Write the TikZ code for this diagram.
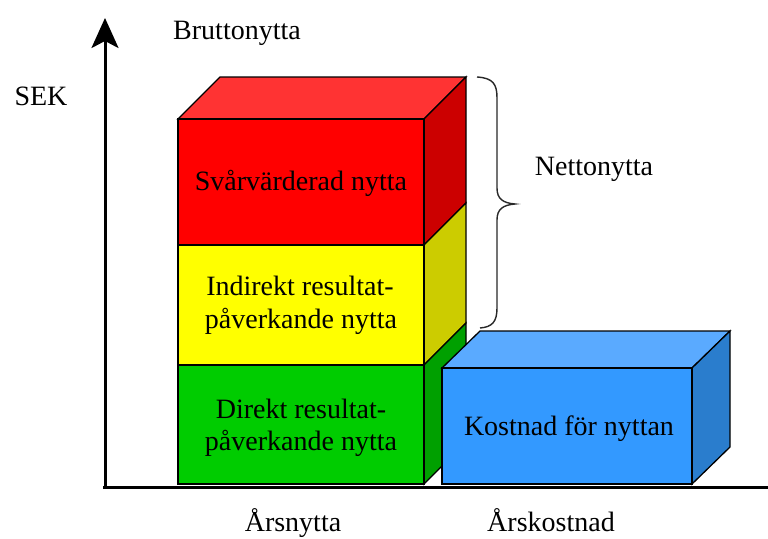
\documentclass[tikz,border=0pt]{standalone}
\usepackage{fontspec}
\setmainfont{Liberation Serif}
\usetikzlibrary{arrows.meta}
\definecolor{redfront}{RGB}{255,0,0}
\definecolor{redtop}{RGB}{255,51,51}
\definecolor{redside}{RGB}{204,0,0}
\definecolor{yelfront}{RGB}{255,255,0}
\definecolor{yelside}{RGB}{204,204,0}
\definecolor{grnfront}{RGB}{0,204,0}
\definecolor{grnside}{RGB}{0,160,0}
\definecolor{bluefront}{RGB}{51,153,255}
\definecolor{bluetop}{RGB}{90,170,255}
\definecolor{blueside}{RGB}{42,125,205}
\definecolor{bracegray}{RGB}{40,40,40}
\begin{document}
\begin{tikzpicture}[x=1pt,y=-1pt,
  face/.style={draw=black,line width=1.3pt,line join=miter},
  axis/.style={line width=3pt},
  lbl/.style={font=\fontsize{28}{33}\selectfont,anchor=base,inner sep=0pt},
  boxtext/.style={lbl,align=center}]
\useasboundingbox (0,0) rectangle (768,538);
\fill[white] (0,0) rectangle (768,538);

% vertical axis
\coordinate (origin) at (105,487);
\coordinate (ytop) at (105,18);
\draw[axis,-{Stealth[length=30pt,width=27pt,inset=7pt]}] (origin) -- (ytop);

% stacked benefit column
\filldraw[face,fill=redtop]   (178,119) -- (424,119) -- (466,77) -- (220,77) -- cycle;
\filldraw[face,fill=redside]  (424,119) -- (466,77) -- (466,203) -- (424,245) -- cycle;
\filldraw[face,fill=yelside]  (424,245) -- (466,203) -- (466,323) -- (424,365) -- cycle;
\filldraw[face,fill=grnside]  (424,365) -- (466,323) -- (466,442) -- (424,484) -- cycle;
\filldraw[face,fill=redfront] (178,119) rectangle (424,245);
\filldraw[face,fill=yelfront] (178,245) rectangle (424,365);
\filldraw[face,fill=grnfront] (178,365) rectangle (424,484);

% cost box
\filldraw[face,fill=bluetop]   (442,368) -- (692,368) -- (730,331) -- (480,331) -- cycle;
\filldraw[face,fill=blueside]  (692,368) -- (730,331) -- (730,447) -- (692,484) -- cycle;
\filldraw[face,fill=bluefront] (442,368) rectangle (692,484);

% horizontal axis
\coordinate (xstart) at (103,487);
\coordinate (xend) at (768,487);
\draw[axis] (xstart) -- (xend);

% brace spanning the net benefit
\draw[bracegray,line width=1.4pt]
  (477,77) .. controls (493,78) and (497,84) .. (497,98)
  -- (497,188) .. controls (497,199) and (503,203) .. (515,204)
  .. controls (503,205) and (497,209) .. (497,220)
  -- (497,308) .. controls (497,322) and (492,327) .. (480,328);

% labels
\node[lbl] (brutto) at (237,39) {Bruttonytta};
\node[lbl] (sek) at (41,105) {SEK};
\node[lbl] (netto) at (594,175) {Nettonytta};
\node[boxtext] (svar) at (301,190) {Svårvärderad nytta};
\node[lbl] (ind1) at (300,295) {Indirekt resultat-};
\node[lbl] (ind2) at (301,328) {påverkande nytta};
\node[lbl] (dir1) at (301,418) {Direkt resultat-};
\node[lbl] (dir2) at (301,450) {påverkande nytta};
\node[lbl] (kost) at (569,435) {Kostnad för nyttan};
\node[lbl] (arsn) at (293,531) {Årsnytta};
\node[lbl] (arsk) at (551,531) {Årskostnad};
\end{tikzpicture}
\end{document}
